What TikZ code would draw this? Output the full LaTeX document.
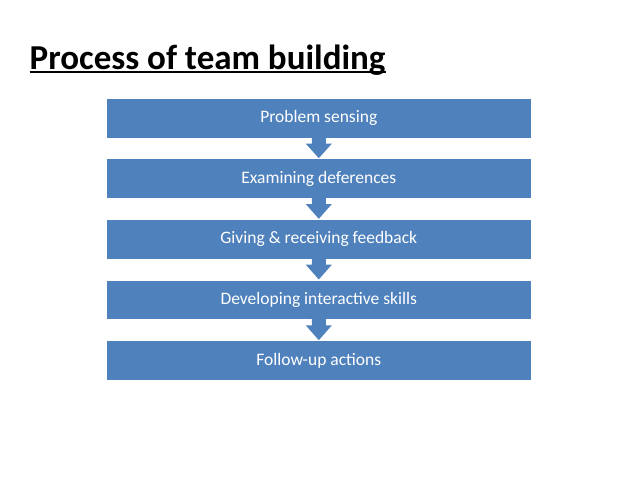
\documentclass[tikz,border=0pt]{standalone}
\usepackage{fontspec}
\setmainfont{Carlito}
\usetikzlibrary{calc}
\definecolor{boxblue}{HTML}{4F81BD}
\begin{document}
\begin{tikzpicture}[x=1pt,y=-1pt]
\tikzset{
  stage/.style={fill=boxblue, minimum width=423.5pt, minimum height=38.5pt, text=white,
    font=\fontsize{17.5}{20}\selectfont, anchor=north, inner sep=0pt},
  flow/.style={fill=boxblue},
  titletext/.style={anchor=base west, inner sep=0pt, font=\fontsize{35}{40}\selectfont\bfseries}
}
\useasboundingbox (0,0) rectangle (638,479);
\node[titletext] (title) at (29.5,69.3) {Process of team building};
\draw[line width=2.3pt] ($(title.base west)+(0,3)$) -- ($(title.base east)+(0,3)$);
\node[stage] (b1) at (318.8,98.8) {Problem sensing};
\node[stage] (b2) at (318.8,159.2) {Examining deferences};
\node[stage] (b3) at (318.8,219.8) {Giving \& receiving feedback};
\node[stage] (b4) at (318.8,280.5) {Developing interactive skills};
\node[stage] (b5) at (318.8,341.2) {Follow-up actions};
\foreach \a/\b in {b1/b2,b2/b3,b3/b4,b4/b5}{
  \fill[flow] ($(\a.south)+(-7,-0.5)$) -- ($(\a.south)+(-7,6)$) -- ($(\a.south)+(-13,6)$)
    -- ($(\b.north)+(0,-1)$) -- ($(\a.south)+(13,6)$) -- ($(\a.south)+(7,6)$)
    -- ($(\a.south)+(7,-0.5)$) -- cycle;
}
\end{tikzpicture}
\end{document}
